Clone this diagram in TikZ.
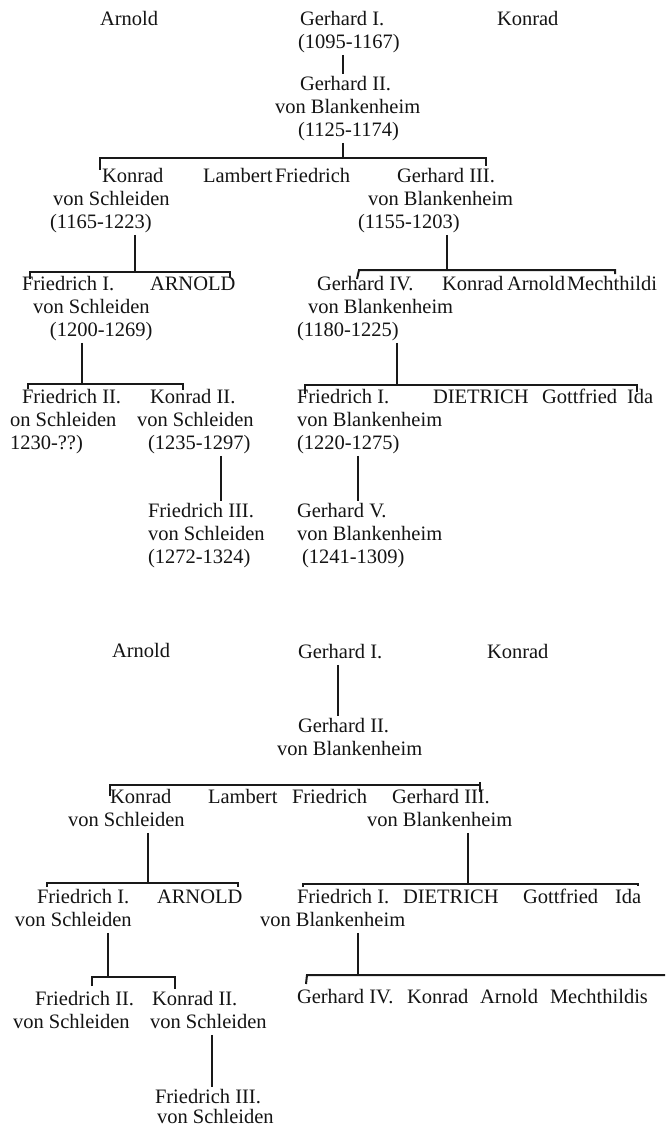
\documentclass[tikz,border=0pt]{standalone}
\usepackage{fontspec}
\setmainfont{Liberation Serif}
\newcommand\pp[1]{\begin{tabular}[t]{@{}l@{}}#1\end{tabular}}
\newcommand\ind[1]{\hspace*{#1pt}}
\begin{document}
\begin{tikzpicture}[x=1pt,y=-1pt,
  person/.style={anchor=base west, inner sep=0pt, outer sep=0pt,
    font=\fontsize{20.5}{23}\selectfont, text=black!92},
  ln/.style={line width=2pt, draw=black!90}]
\fill[white] (0,0) rectangle (672,1128);
\useasboundingbox (0,0) rectangle (672,1128);

%% ===================== TOP TREE =====================
\node[person] (arnA) at (100,25) {\pp{Arnold}};
\node[person] (gI)   at (298,25) {\pp{\ind{2}Gerhard I.\\ (1095-1167)}};
\node[person] (konA) at (497,25) {\pp{Konrad}};
\node[person] (gII)  at (275,90) {\pp{\ind{25}Gerhard II.\\ von Blankenheim\\ \ind{23}(1125-1174)}};

\node[person] (konS) at (50,182)  {\pp{\ind{52}Konrad\\ \ind{3}von Schleiden\\ (1165-1223)}};
\node[person] (lam)  at (203,182) {\pp{Lambert}};
\node[person] (fri)  at (275,182) {\pp{Friedrich}};
\node[person] (gIII) at (358,182) {\pp{\ind{39}Gerhard III.\\ \ind{10}von Blankenheim\\ (1155-1203)}};

\node[person] (fIS)  at (22,290)  {\pp{Friedrich I.\\ \ind{11}von Schleiden\\ \ind{28}(1200-1269)}};
\node[person] (arnU) at (150,290) {\pp{ARNOLD}};
\node[person] (gIV)  at (297,290) {\pp{\ind{20}Gerhard IV.\\ \ind{11}von Blankenheim\\ (1180-1225)}};
\node[person] (kon2) at (442,290) {\pp{Konrad}};
\node[person] (arn2) at (507,290) {\pp{Arnold}};
\node[person] (mech) at (567,290) {\pp{Mechthildi}};

\node[person] (fIIS) at (10,403)  {\pp{\ind{12}Friedrich II.\\ on Schleiden\\ 1230-??)}};
\node[person] (kIIS) at (137,403) {\pp{\ind{13}Konrad II.\\ von Schleiden\\ \ind{11}(1235-1297)}};
\node[person] (fIB)  at (297,403) {\pp{Friedrich I.\\ von Blankenheim\\ (1220-1275)}};
\node[person] (diet) at (433,403) {\pp{DIETRICH}};
\node[person] (gott) at (542,403) {\pp{Gottfried}};
\node[person] (ida)  at (627,403) {\pp{Ida}};

\node[person] (fIIIS) at (148,517) {\pp{Friedrich III.\\ von Schleiden\\ (1272-1324)}};
\node[person] (gV)    at (297,517) {\pp{Gerhard V.\\ von Blankenheim\\ \ind{5}(1241-1309)}};

% connectors (top)
\draw[ln] (gI.south -| 343,0) -- (gII.north -| 343,0);
\coordinate (b1l) at (100,158); \coordinate (b1r) at (486,158);
\draw[ln] (gII.south -| 343,0) -- (b1l -| 343,0);
\draw[ln] (konS.north -| b1l) ++(0,4) -- (b1l) -- (b1r) -- ++(0,8);

\coordinate (b2l) at (30,272); \coordinate (b2r) at (230,272);
\draw[ln] (konS.south -| 135,0) -- (b2l -| 135,0);
\draw[ln] (b2l) ++(0,7) -- (b2l) -- (b2r) -- ++(0,5);

\coordinate (b3l) at (359,270); \coordinate (b3r) at (615,270);
\draw[ln] (gIII.south -| 447,0) -- (b3l -| 447,0);
\draw[ln] (b3l) ++(-2,9) -- (b3l) -- (b3r) -- ++(0,4);

\coordinate (b4l) at (28,384); \coordinate (b4r) at (183,384);
\draw[ln] (fIS.south -| 82,0) -- (b4l -| 82,0);
\draw[ln] (b4l) ++(0,5) -- (b4l) -- (b4r) -- ++(0,6);

\coordinate (b5l) at (305,385); \coordinate (b5r) at (637,385);
\draw[ln] (gIV.south -| 397,0) -- (b5l -| 397,0);
\draw[ln] (b5l) ++(0,9) -- (b5l) -- (b5r) -- ++(0,7);

\draw[ln] (kIIS.south -| 221,0) -- (fIIIS.north -| 221,0);
\draw[ln] (fIB.south -| 358,0) -- (gV.north -| 358,0);

%% ===================== BOTTOM TREE =====================
\node[person] (arnB) at (112,657) {\pp{Arnold}};
\node[person] (gIb)  at (298,658) {\pp{Gerhard I.}};
\node[person] (konB) at (487,658) {\pp{Konrad}};
\node[person] (gIIb) at (277,732) {\pp{\ind{21}Gerhard II.\\ von Blankenheim}};

\node[person] (konSb) at (68,803)  {\pp{\ind{42}Konrad\\ von Schleiden}};
\node[person] (lamb)  at (208,803) {\pp{Lambert}};
\node[person] (frib)  at (292,803) {\pp{Friedrich}};
\node[person] (gIIIb) at (367,803) {\pp{\ind{25}Gerhard III.\\ von Blankenheim}};

\node[person] (fISb)  at (15,903)  {\pp{\ind{22}Friedrich I.\\ von Schleiden}};
\node[person] (arnUb) at (157,903) {\pp{ARNOLD}};
\node[person] (fIBb)  at (260,903) {\pp{\ind{37}Friedrich I.\\ von Blankenheim}};
\node[person] (dietb) at (403,903) {\pp{DIETRICH}};
\node[person] (gottb) at (523,903) {\pp{Gottfried}};
\node[person] (idab)  at (615,903) {\pp{Ida}};

\node[person] (fIISb) at (13,1005)  {\pp{\ind{22}Friedrich II.\\ von Schleiden}};
\node[person] (kIISb) at (150,1005) {\pp{\ind{2}Konrad II.\\ von Schleiden}};
\node[person] (gIVb)  at (297,1003) {\pp{Gerhard IV.}};
\node[person] (konb2) at (407,1003) {\pp{Konrad}};
\node[person] (arnb2) at (480,1003) {\pp{Arnold}};
\node[person] (mechb) at (550,1003) {\pp{Mechthildis}};

\node[person] (fIIISb) at (155,1103) {\pp{Friedrich III.\\[-3pt] \ind{2}von Schleiden}};

% connectors (bottom)
\draw[ln] (gIb.south -| 338,0) -- (gIIb.north -| 338,0);
\coordinate (b6l) at (110,785); \coordinate (b6r) at (480,785);
\draw[ln] (b6l) ++(0,11) -- (b6l) -- (b6r);
\draw[ln] (b6r) ++(0,-3) -- ++(0,10);

\coordinate (b7l) at (47,883); \coordinate (b7r) at (238,883);
\draw[ln] (konSb.south -| 148,0) -- (b7l -| 148,0);
\draw[ln] (b7l) ++(0,4) -- (b7l) -- (b7r) -- ++(0,4);

\coordinate (b8l) at (303,884); \coordinate (b8r) at (638,884);
\draw[ln] (gIIIb.south -| 468,0) -- (b8l -| 468,0);
\draw[ln] (b8l) ++(0,3) -- (b8l) -- (b8r) -- ++(0,2);

\coordinate (b9l) at (92,977); \coordinate (b9r) at (175,977);
\draw[ln] (fISb.south -| 108,0) -- (b9l -| 108,0);
\draw[ln] (b9l) ++(0,9) -- (b9l) -- (b9r) -- ++(0,12);

\coordinate (b10l) at (307,975); \coordinate (b10r) at (665,975);
\draw[ln] (fIBb.south -| 358,0) -- (b10l -| 358,0);
\draw[ln] (b10l) ++(-1,9) -- (b10l) -- (b10r);

\draw[ln] (kIISb.south -| 212,0) -- (fIIISb.north -| 212,0);
\end{tikzpicture}
\end{document}
